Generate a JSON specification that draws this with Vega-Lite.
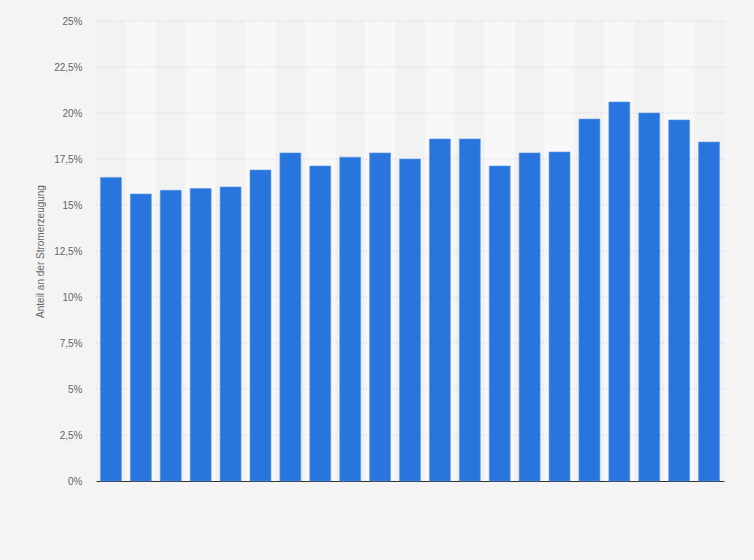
{
  "$schema": "https://vega.github.io/schema/vega-lite/v6.json",
  "width": 628,
  "height": 460,
  "autosize": "none",
  "padding": {"left": 96, "top": 21, "right": 30, "bottom": 79},
  "background": "#f4f4f4",
  "config": {
    "view": {"stroke": null, "fill": "#f2f2f2"},
    "font": "Arial, Liberation Sans, sans-serif"
  },
  "datasets": {
    "werte": [
      {"jahr": "2001", "anteil": 16.5, "streifen": 0},
      {"jahr": "2002", "anteil": 15.6, "streifen": 1},
      {"jahr": "2003", "anteil": 15.8, "streifen": 0},
      {"jahr": "2004", "anteil": 15.9, "streifen": 1},
      {"jahr": "2005", "anteil": 15.98, "streifen": 0},
      {"jahr": "2006", "anteil": 16.9, "streifen": 1},
      {"jahr": "2007", "anteil": 17.83, "streifen": 0},
      {"jahr": "2008", "anteil": 17.12, "streifen": 1},
      {"jahr": "2009", "anteil": 17.6, "streifen": 0},
      {"jahr": "2010", "anteil": 17.83, "streifen": 1},
      {"jahr": "2011", "anteil": 17.5, "streifen": 0},
      {"jahr": "2012", "anteil": 18.59, "streifen": 1},
      {"jahr": "2013", "anteil": 18.59, "streifen": 0},
      {"jahr": "2014", "anteil": 17.12, "streifen": 1},
      {"jahr": "2015", "anteil": 17.83, "streifen": 0},
      {"jahr": "2016", "anteil": 17.88, "streifen": 1},
      {"jahr": "2017", "anteil": 19.67, "streifen": 0},
      {"jahr": "2018", "anteil": 20.6, "streifen": 1},
      {"jahr": "2019", "anteil": 20.0, "streifen": 0},
      {"jahr": "2020", "anteil": 19.62, "streifen": 1},
      {"jahr": "2021", "anteil": 18.42, "streifen": 0}
    ],
    "raster": [
      {"wert": 2.5}, {"wert": 5}, {"wert": 7.5}, {"wert": 10}, {"wert": 12.5},
      {"wert": 15}, {"wert": 17.5}, {"wert": 20}, {"wert": 22.5}, {"wert": 25}
    ]
  },
  "layer": [
    {
      "data": {"name": "werte"},
      "transform": [{"filter": "datum.streifen == 1"}],
      "mark": {"type": "bar", "color": "#f8f8f8", "width": {"band": 1}},
      "encoding": {
        "x": {
          "field": "jahr",
          "type": "nominal",
          "scale": {"paddingInner": 0, "paddingOuter": 0}
        },
        "y": {"datum": 0, "type": "quantitative", "scale": {"domain": [0, 25], "nice": false}},
        "y2": {"datum": 25}
      }
    },
    {
      "data": {"name": "raster"},
      "mark": {"type": "rule", "color": "#cfcfcf", "strokeDash": [1, 2], "strokeWidth": 1},
      "encoding": {
        "y": {"field": "wert", "type": "quantitative", "scale": {"domain": [0, 25], "nice": false}}
      }
    },
    {
      "data": {"name": "werte"},
      "mark": {"type": "bar", "color": "#2876dd", "width": {"band": 0.7}, "stroke": "#5c97e6", "strokeWidth": 0.6},
      "encoding": {
        "x": {
          "field": "jahr",
          "type": "nominal",
          "axis": {
            "title": null,
            "labels": false,
            "ticks": false,
            "domainColor": "#333333",
            "domainWidth": 1,
            "grid": false
          }
        },
        "y": {
          "field": "anteil",
          "type": "quantitative",
          "scale": {"domain": [0, 25], "nice": false},
          "axis": {
            "title": "Anteil an der Stromerzeugung",
            "titleFont": "Arial, Liberation Sans, sans-serif",
            "titleFontSize": 10,
            "titleFontWeight": "normal",
            "titleColor": "#666666",
            "titlePadding": 8,
            "values": [0, 2.5, 5, 7.5, 10, 12.5, 15, 17.5, 20, 22.5, 25],
            "labelExpr": "replace(format(datum.value, '.1~f'), '.', ',') + '%'",
            "labelFontSize": 10,
            "labelColor": "#666666",
            "labelPadding": 14,
            "ticks": false,
            "domain": false,
            "grid": false
          }
        },
        "tooltip": [
          {"field": "jahr", "type": "nominal"},
          {"field": "anteil", "type": "quantitative", "format": ".2f"}
        ]
      }
    }
  ]
}
